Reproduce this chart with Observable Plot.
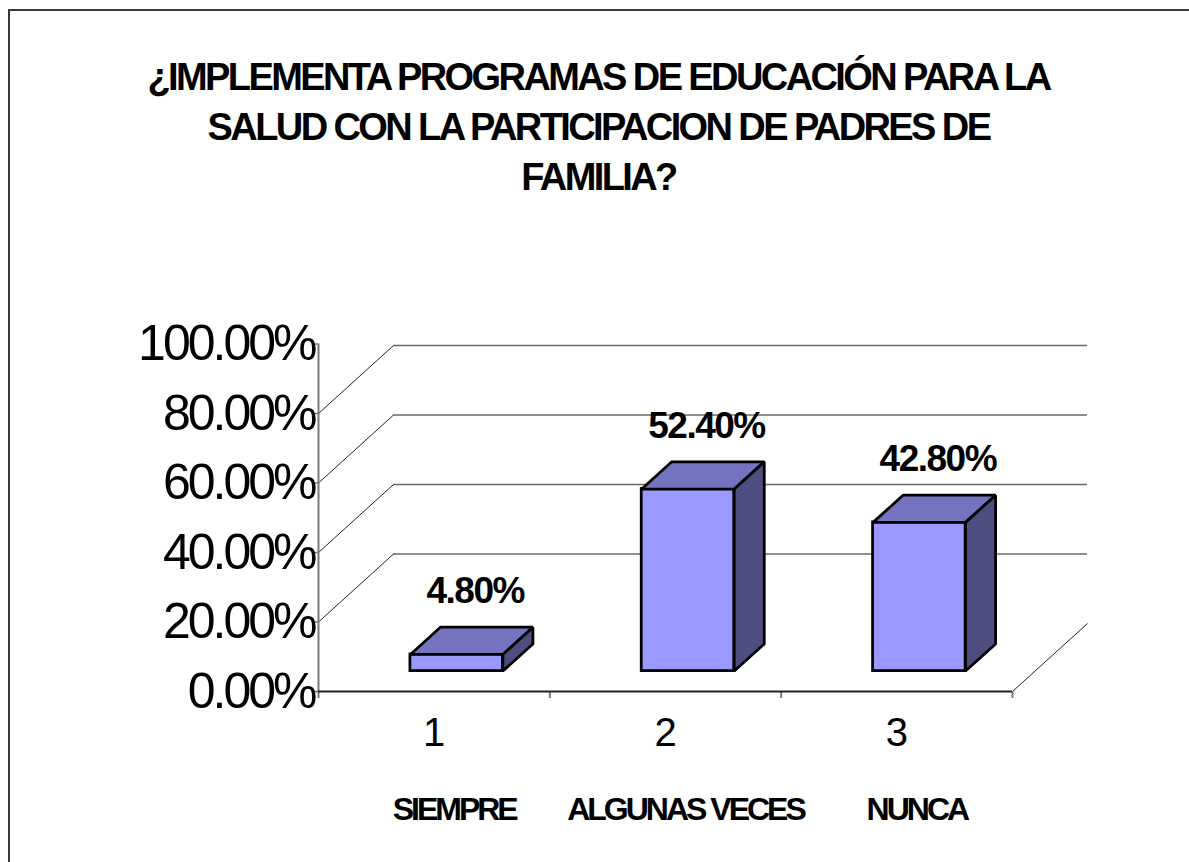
<!DOCTYPE html>
<html>
<head>
<meta charset="utf-8">
<script src="https://cdn.jsdelivr.net/npm/d3@7"></script>
<script src="https://cdn.jsdelivr.net/npm/@observablehq/plot@0.6"></script>
<style>
  html, body { margin: 0; padding: 0; background: #fff; }
  body { width: 1189px; height: 862px; overflow: hidden; position: relative; font-family: "Liberation Sans", Arial, sans-serif; }
  #frame { position: absolute; left: 8px; top: 9px; width: 1400px; height: 1000px;
           border-left: 2px solid #3a3a3a; border-top: 2px solid #3a3a3a; }
  #title { position: absolute; left: 4px; top: 52px; width: 1189px; text-align: center;
           font-weight: bold; font-size: 38px; line-height: 50px; letter-spacing: -2.6px; color: #000; }
  #chart { position: absolute; left: 0; top: 0; }
</style>
</head>
<body>
<div id="frame"></div>
<div id="title">¿IMPLEMENTA PROGRAMAS DE EDUCACIÓN PARA LA<br>SALUD CON LA PARTICIPACION DE PADRES DE<br>FAMILIA?</div>
<div id="chart"></div>
<script>
// ---- data ----
const categories = ["SIEMPRE", "ALGUNAS VECES", "NUNCA"];
const categoryNumbers = ["1", "2", "3"];
const values = [0.048, 0.524, 0.428];
const yTicks = [0, 0.2, 0.4, 0.6, 0.8, 1.0];
const wallGrid = [0.2, 0.4, 0.6, 0.8];

// ---- geometry (pixels / scale constants) ----
const W = 1189, H = 862;
const mLeft = 318, mRight = 177, mTop = 343.5, mBottom = 171;
const pxX = (W - mLeft - mRight) / categories.length;   // px per category unit
const pxY = (H - mTop - mBottom);                        // px per 100%
const DX = 75 / pxX, DY = 68 / pxY;                      // 3D depth in data units
const half = 0.2, f0 = 0.3, f1 = 0.7;                    // bar half-width, depth fractions
const font = "Liberation Sans, Arial, sans-serif";

const bars = categories.map((c, i) => ({i, c, n: categoryNumbers[i], v: values[i]}));
const topFaces = bars.flatMap(d => [
  {i: d.i, x: d.i + 0.5 - half + f0 * DX, y: d.v + f0 * DY},
  {i: d.i, x: d.i + 0.5 + half + f0 * DX, y: d.v + f0 * DY},
  {i: d.i, x: d.i + 0.5 + half + f1 * DX, y: d.v + f1 * DY},
  {i: d.i, x: d.i + 0.5 - half + f1 * DX, y: d.v + f1 * DY}
]);
const sideFaces = bars.flatMap(d => [
  {i: d.i, x: d.i + 0.5 + half + f0 * DX, y: f0 * DY},
  {i: d.i, x: d.i + 0.5 + half + f1 * DX, y: f1 * DY},
  {i: d.i, x: d.i + 0.5 + half + f1 * DX, y: d.v + f1 * DY},
  {i: d.i, x: d.i + 0.5 + half + f0 * DX, y: d.v + f0 * DY}
]);

const pct = d3.format(".2%");
const outline = {stroke: "#000", strokeWidth: 2.75, strokeLinejoin: "miter"};

const plot = Plot.plot({
  width: W, height: H,
  marginLeft: mLeft, marginRight: mRight, marginTop: mTop, marginBottom: mBottom,
  x: {type: "linear", domain: [0, categories.length], axis: null},
  y: {type: "linear", domain: [0, 1], axis: null},
  style: {background: "transparent", overflow: "visible", fontFamily: font},
  marks: [
    // back wall gridlines
    Plot.ruleY(wallGrid, {y: d => d + DY, x1: DX, x2: categories.length + DX, stroke: "#6a6a6a", strokeWidth: 1.5}),
    // side wall diagonals
    Plot.link(wallGrid, {x1: 0, y1: d => d, x2: DX, y2: d => d + DY, stroke: "#222", strokeWidth: 1}),
    // floor right edge
    Plot.link([0], {x1: categories.length, y1: 0, x2: categories.length + DX, y2: DY, stroke: "#222", strokeWidth: 1}),
    // y axis line and ticks
    Plot.ruleX([0], {y1: 0, y2: 1, stroke: "#7a7a7a", strokeWidth: 2}),
    Plot.ruleY(yTicks, {y: d => d, x1: -5 / pxX, x2: 0, stroke: "#7a7a7a", strokeWidth: 1.5}),
    // x ticks
    Plot.ruleX(d3.range(categories.length + 1), {x: d => d, y1: 0, y2: -7 / pxY, stroke: "#7a7a7a", strokeWidth: 2}),
    // floor front edge
    Plot.ruleY([0], {x1: 0, x2: categories.length, stroke: "#222", strokeWidth: 2}),
    // bars: front, top, side
    Plot.rect(bars, {
      x1: d => d.i + 0.5 - half + f0 * DX, x2: d => d.i + 0.5 + half + f0 * DX,
      y1: f0 * DY, y2: d => d.v + f0 * DY,
      fill: "#9999FF", ...outline
    }),
    Plot.line(topFaces, {x: "x", y: "y", z: "i", curve: "linear-closed", fill: "#7373BF", ...outline}),
    Plot.line(sideFaces, {x: "x", y: "y", z: "i", curve: "linear-closed", fill: "#4D4D80", ...outline}),
    // value labels
    Plot.text(bars, {x: d => d.i + 0.5, y: d => d.v + f1 * DY, text: d => pct(d.v), dx: 41, dy: -36,
      fontSize: 37, fontWeight: "bold", ariaLabel: "value-labels"}),
    // y tick labels
    Plot.text(yTicks, {x: 0, y: d => d, text: d => pct(d), textAnchor: "end", dx: -4, fontSize: 50, ariaLabel: "y-labels"}),
    // category numbers
    Plot.text(bars, {x: d => d.i + 0.5, y: 0, text: "n", dy: 42, fontSize: 40, ariaLabel: "x-numbers"}),
    // category names
    Plot.text(bars, {x: d => d.i + 0.5, y: 0, text: "c", dx: 20, dy: 118, fontSize: 32, fontWeight: "bold", ariaLabel: "x-names"})
  ]
});

// tighten letter spacing to mimic the condensed rendering of the original
const spacing = {"37": -1.5, "50": -3, "40": 0, "32": -3};
plot.querySelectorAll("g[font-size]").forEach(g => {
  const fs = String(parseFloat(g.getAttribute("font-size")));
  if (spacing[fs] !== undefined) g.setAttribute("letter-spacing", spacing[fs] + "px");
});
document.getElementById("chart").appendChild(plot);
</script>
</body>
</html>
